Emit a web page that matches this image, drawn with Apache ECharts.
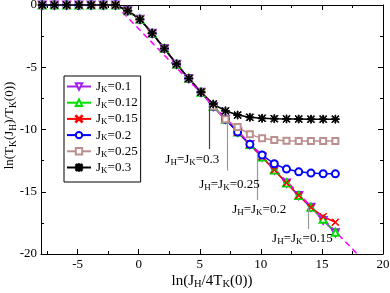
<!DOCTYPE html>
<html><head><meta charset="utf-8">
<script src="https://cdn.jsdelivr.net/npm/echarts@6/dist/echarts.min.js"></script>
<style>html,body{margin:0;padding:0;background:#fff}#c{width:390px;height:293px}</style>
</head><body><div id="c"></div>
<script>
// ---- data ----
const xValues = [-7.9,-6.9,-5.9,-4.9,-3.9,-2.9,-1.9,-0.9,0.1,1.1,2.1,3.1,4.1,5.1,6.1,7.1,8.1,9.1,10.1,11.1,12.1,13.1,14.1,15.1,16.1];
const jk010 = [0,0,0,0,0,0,0,-0.46,-1.15,-2.27,-3.5,-4.75,-5.9,-7.0,-8.15,-9.18,-10.2,-11.2,-12.2,-13.25,-14.3,-15.3,-16.25,-17.3,-18.3];
const jk012 = [0,0,0,0,0,0,0,-0.46,-1.15,-2.27,-3.5,-4.75,-5.9,-7.0,-8.15,-9.18,-10.2,-11.2,-12.2,-13.25,-14.3,-15.3,-16.25,-17.2,-18.25];
const jk015 = [0,0,0,0,0,0,0,-0.46,-1.15,-2.27,-3.5,-4.75,-5.9,-7.0,-8.15,-9.18,-10.2,-11.2,-12.2,-13.25,-14.3,-15.3,-16.25,-17.0,-17.45];
const jk020 = [0,0,0,0,0,0,0,-0.46,-1.15,-2.27,-3.5,-4.75,-5.9,-7.0,-8.15,-9.18,-10.2,-11.19,-12.05,-12.75,-13.18,-13.4,-13.5,-13.55,-13.56];
const jk025 = [0,0,0,0,0,0,0,-0.46,-1.15,-2.27,-3.5,-4.75,-5.9,-7.0,-8.15,-9.18,-9.8,-10.39,-10.71,-10.84,-10.9,-10.92,-10.93,-10.93,-10.93];
const jk030 = [0,0,0,0,0,0,0,-0.46,-1.15,-2.27,-3.5,-4.75,-5.9,-7.0,-7.95,-8.5,-8.84,-9.02,-9.1,-9.13,-9.15,-9.16,-9.17,-9.17,-9.17];
const jkLabels = ['0.1','0.12','0.15','0.2','0.25','0.3'];
const guideX = [-1.9, 17.9];
const guideY = [0, -20];
const xMajorTicks = [-5,0,5,10,15,20];
const xMinorTicks = [-7.5,-2.5,2.5,7.5,12.5,17.5];
const noteX = [5.8, 7.27, 9.72, 13.89];
const noteTop = [-8.1, -9.48, -11.9, -16.25];
const noteBottom = [-11.57, -13.3, -15.66, -18.0];
const noteLabelX = [4.39, 7.43, 9.86, 13.4];
const noteLabelY = [-12.45, -14.46, -16.4, -18.74];
const noteValues = ['0.3','0.25','0.2','0.15'];

// ---- styling ----
const serif = 'Liberation Serif';
function rich(main, sub, lh, slh) {
  return {
    n: {fontFamily: serif, fontSize: main, color: '#000', lineHeight: lh, verticalAlign: 'middle'},
    s: {fontFamily: serif, fontSize: sub, color: '#000', lineHeight: slh, verticalAlign: 'bottom'}
  };
}
const richSmall = rich(13, 9, 15, 8);
const richBig = rich(15, 10.5, 18, 9);
const richYName = rich(13, 9.5, 16, 8);
const colors = ['#a020f0', '#00e000', '#ff0000', '#0000ff', '#bc8f8f', '#000000'];
const symX = 'path://M0,0.8L0.8,0L5,4.2L9.2,0L10,0.8L5.8,5L10,9.2L9.2,10L5,5.8L0.8,10L0,9.2L4.2,5Z';
const symStar = 'path://M4.45,0H5.55V10H4.45Z M0,4.45H10V5.55H0Z M1.2,0.4L9.6,8.8L8.8,9.6L0.4,1.2Z M8.8,0.4L9.6,1.2L1.2,9.6L0.4,8.8Z';
const symbols = ['emptyTriangle','emptyTriangle',symX,'emptyCircle','emptyRect',symStar];
const symRot = [180,0,0,0,0,0];
const symSizes = [7,7,7,7,6,8];
const allData = [jk010, jk012, jk015, jk020, jk025, jk030];

const names = jkLabels.map(v => 'JK=' + v);
const series = allData.map((arr, i) => ({
  name: names[i], type: 'line', xAxisIndex: 0, yAxisIndex: 0,
  data: xValues.map((x, k) => [x, arr[k]]),
  symbol: symbols[i], symbolSize: symSizes[i], symbolRotate: symRot[i],
  showAllSymbol: true,
  lineStyle: {color: colors[i], width: 1.5},
  itemStyle: {color: colors[i], borderColor: colors[i], borderWidth: 1},
  emphasis: {disabled: true}, animation: false
}));
series.push({
  name: 'guide', type: 'line', xAxisIndex: 0, yAxisIndex: 0,
  data: guideX.map((x, k) => [x, guideY[k]]),
  symbol: 'none', lineStyle: {color: '#ff00ff', width: 1.5, type: [6, 4]},
  animation: false, silent: true
});
series.push({
  name: 'notes', type: 'line', xAxisIndex: 0, yAxisIndex: 0, data: [],
  animation: false, silent: true,
  markLine: {
    silent: true, symbol: ['none','none'], animation: false,
    label: {show: false},
    data: noteX.map((x, i) => [
      {coord: [x, noteTop[i]], lineStyle: {color: i === 0 ? '#444' : '#999', width: 1.2, type: 'solid'}},
      {coord: [x, noteBottom[i]]}
    ])
  },
  markPoint: {
    silent: true, animation: false, symbol: 'rect', symbolSize: 1,
    itemStyle: {color: 'rgba(0,0,0,0)'},
    label: {show: true, position: 'inside', rich: richSmall,
      formatter: p => '{n|J}{s|H}{n|=J}{s|K}{n|=' + p.value + '}'},
    data: noteLabelX.map((x, i) => ({coord: [x, noteLabelY[i]], value: noteValues[i]}))
  }
});

const xBase = {type: 'value', min: -8, max: 20, splitLine: {show: false}};
const yBase = {type: 'value', min: -20, max: 0, interval: 5, splitLine: {show: false}};
const axLine = {show: true, onZero: false, lineStyle: {color: '#000', width: 1}};
const noLine = {show: false, onZero: false};

const option = {
  backgroundColor: '#fff',
  animation: false,
  grid: {left: 41, right: 7, top: 5, bottom: 39, containLabel: false, outerBoundsMode: 'none'},
  legend: {
    data: names, orient: 'vertical', left: 64, top: 76,
    backgroundColor: '#fff', borderColor: '#000', borderWidth: 1,
    padding: [4, 3, 7, 2], itemWidth: 24, itemHeight: 8, itemGap: 2.2,
    formatter: name => '{n|J}{s|K}{n|=' + name.slice(3) + '}',
    textStyle: {rich: richSmall},
    selectedMode: false
  },
  xAxis: [
    Object.assign({}, xBase, {position: 'bottom', axisLine: axLine,
      name: '{n|ln(J}{s|H}{n|/4T}{s|K}{n|(0))}', nameLocation: 'middle', nameGap: 18, nameMoveOverlap: false,
      nameTextStyle: {rich: richBig},
      axisTick: {show: true, inside: true, length: 5, lineStyle: {color: '#000'}, customValues: xMajorTicks},
      axisLabel: {show: true, customValues: xMajorTicks, fontFamily: serif, fontSize: 13, color: '#000', margin: 4}}),
    Object.assign({}, xBase, {position: 'bottom', axisLine: noLine,
      axisTick: {show: true, inside: true, length: 3, lineStyle: {color: '#000'}, customValues: xMinorTicks},
      axisLabel: {show: false}}),
    Object.assign({}, xBase, {position: 'top', axisLine: axLine,
      axisTick: {show: true, inside: true, length: 5, lineStyle: {color: '#000'}, customValues: xMajorTicks},
      axisLabel: {show: false}}),
    Object.assign({}, xBase, {position: 'top', axisLine: noLine,
      axisTick: {show: true, inside: true, length: 3, lineStyle: {color: '#000'}, customValues: xMinorTicks},
      axisLabel: {show: false}})
  ],
  yAxis: [
    Object.assign({}, yBase, {position: 'left', axisLine: axLine,
      name: '{n|ln(T}{s|K}{n|(J}{s|H}{n|)/T}{s|K}{n|(0))}', nameLocation: 'middle', nameGap: 23, nameRotate: 90, nameMoveOverlap: false,
      nameTextStyle: {rich: richYName, padding: [0, 0, 0, 8]},
      axisTick: {show: true, inside: true, length: 5, lineStyle: {color: '#000'}},
      minorTick: {show: true, splitNumber: 2, length: 3, lineStyle: {color: '#000'}},
      axisLabel: {fontFamily: serif, fontSize: 13, color: '#000', margin: 4}}),
    Object.assign({}, yBase, {position: 'right', axisLine: axLine,
      axisTick: {show: true, inside: true, length: 5, lineStyle: {color: '#000'}},
      minorTick: {show: true, splitNumber: 2, length: 3, lineStyle: {color: '#000'}},
      axisLabel: {show: false}})
  ],
  series: series
};
const chart = echarts.init(document.getElementById('c'), null, {renderer: 'canvas'});
chart.setOption(option);
</script></body></html>
